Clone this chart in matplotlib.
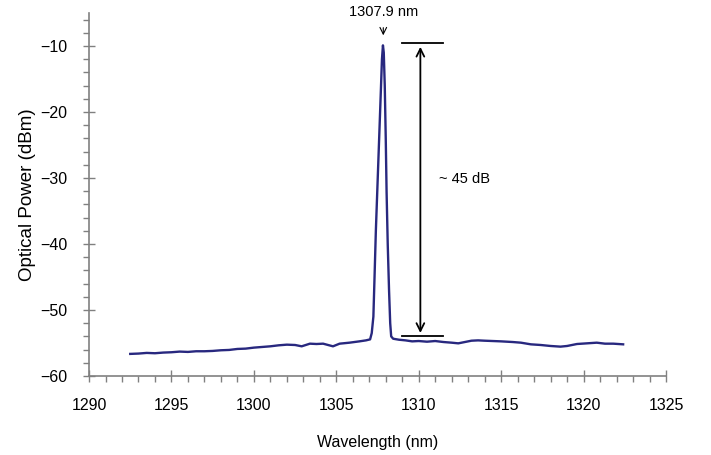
import matplotlib
matplotlib.use('Agg')
import matplotlib.pyplot as plt
from matplotlib.ticker import MultipleLocator

plt.rcParams['font.family'] = ['Liberation Sans', 'DejaVu Sans']

# spectrum
wavelength = [1292.5, 1293.0, 1293.5, 1294.0, 1294.5, 1295.0, 1295.5, 1296.0,
              1296.5, 1297.0, 1297.5, 1298.0, 1298.5, 1299.0, 1299.5, 1300.0,
              1300.5, 1301.0, 1301.5, 1302.0, 1302.5, 1302.9, 1303.4, 1303.8,
              1304.2, 1304.5, 1304.8, 1305.2, 1305.8, 1306.4, 1306.8, 1307.05,
              1307.15, 1307.25, 1307.32, 1307.4, 1307.5, 1307.6, 1307.7, 1307.77,
              1307.83, 1307.88, 1307.94, 1308.0, 1308.05, 1308.12, 1308.2, 1308.27,
              1308.33, 1308.45, 1308.8, 1309.2, 1309.6, 1310.0, 1310.5, 1311.0,
              1311.5, 1312.0, 1312.4, 1312.8, 1313.2, 1313.6, 1314.0, 1314.5,
              1315.0, 1315.7, 1316.2, 1316.8, 1317.4, 1318.0, 1318.6, 1319.0,
              1319.6, 1320.2, 1320.8, 1321.3, 1321.8, 1322.4]
power = [-56.65, -56.6, -56.5, -56.55, -56.45, -56.4, -56.3, -56.35,
         -56.25, -56.25, -56.2, -56.1, -56.05, -55.9, -55.85, -55.7,
         -55.6, -55.5, -55.35, -55.25, -55.3, -55.5, -55.1, -55.15,
         -55.1, -55.3, -55.5, -55.1, -54.95, -54.75, -54.6, -54.45,
         -53.5, -51.0, -45.0, -38.0, -31.0, -24.0, -17.0, -12.0,
         -9.9, -11.0, -16.0, -24.0, -32.0, -40.0, -47.0, -52.0,
         -54.0, -54.35, -54.5, -54.6, -54.75, -54.7, -54.8, -54.7,
         -54.85, -54.95, -55.05, -54.85, -54.65, -54.6, -54.65, -54.7,
         -54.75, -54.85, -54.95, -55.2, -55.3, -55.45, -55.55, -55.45,
         -55.15, -55.05, -54.95, -55.1, -55.1, -55.2]

peak_label = '1307.9 nm'
ratio_label = '~ 45 dB'

fig = plt.figure(figsize=(7.11, 4.55), dpi=100)
ax = fig.add_axes([0.1252, 0.1736, 0.8115, 0.7978])

ax.plot(wavelength, power, color='#28287f', lw=1.7)

ax.set_xlim(1290, 1325)
ax.set_ylim(-60, -5)
ax.xaxis.set_major_locator(MultipleLocator(5))
ax.xaxis.set_minor_locator(MultipleLocator(1))
ax.yaxis.set_major_locator(MultipleLocator(10))
ax.yaxis.set_minor_locator(MultipleLocator(2))

for s in ['top', 'right']:
    ax.spines[s].set_visible(False)
for s in ['left', 'bottom']:
    ax.spines[s].set_color('#808080')
    ax.spines[s].set_linewidth(1.2)

ax.tick_params(which='major', direction='inout', length=9, width=1.0,
               color='#808080', labelsize=11.5, labelcolor='black')
ax.tick_params(axis='x', which='major', pad=11)
ax.tick_params(axis='y', which='major', pad=11)
ax.tick_params(which='minor', direction='out', length=4, width=1.0, color='#808080')

ax.set_xlabel('Wavelength (nm)', fontsize=11.5, labelpad=16)
ax.set_ylabel('Optical Power (dBm)', fontsize=13.5, labelpad=3)

# peak annotation
ax.text(1307.85, -4.85, peak_label, ha='center', va='center', fontsize=10.5,
        clip_on=False)
ax.annotate('', xy=(1307.85, -8.8), xytext=(1307.85, -6.8),
            arrowprops=dict(arrowstyle='->', color='black', lw=0.8,
                            mutation_scale=12),
            annotation_clip=False)

# dynamic range marker
ax.plot([1309.0, 1311.45], [-9.6, -9.6], color='black', lw=1.3)
ax.plot([1309.0, 1311.45], [-54.0, -54.0], color='black', lw=1.3)
ax.annotate('', xy=(1310.1, -9.7), xytext=(1310.1, -53.9),
            arrowprops=dict(arrowstyle='<->', color='black', lw=1.3,
                            mutation_scale=14))
ax.text(1311.2, -30.1, ratio_label, ha='left', va='center', fontsize=10.5)

fig.savefig('out.png', dpi=100)
